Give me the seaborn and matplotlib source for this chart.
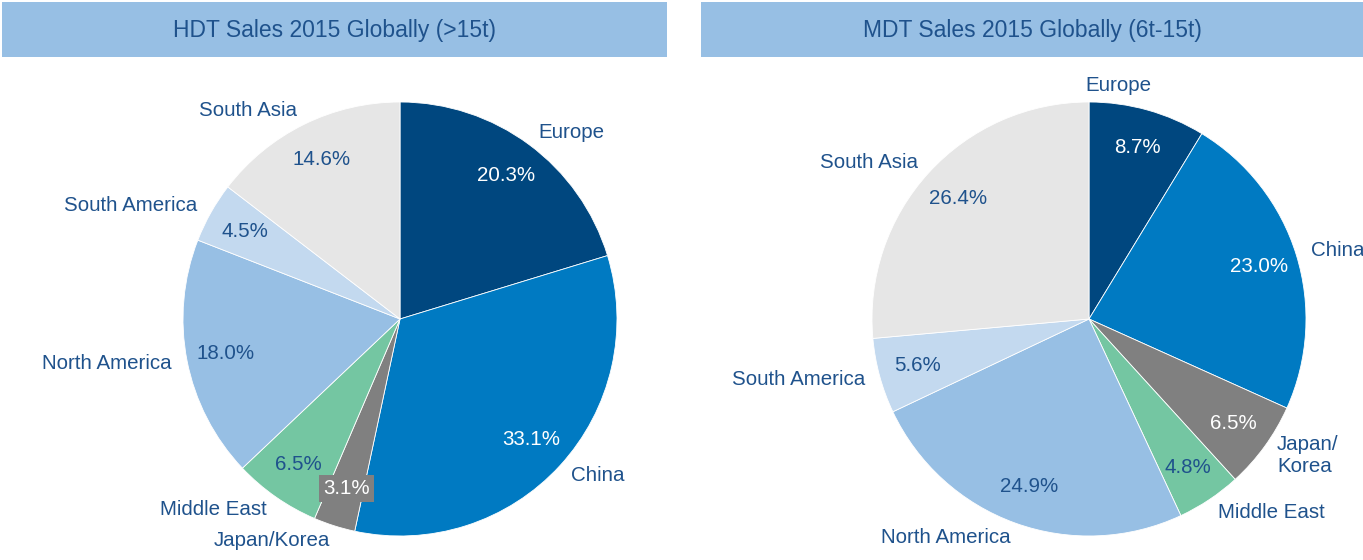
import numpy as np
import matplotlib.pyplot as plt
import seaborn as sns
from matplotlib.patches import Rectangle

sns.set_theme(style='white')
plt.rcParams['font.family'] = ['Liberation Sans', 'DejaVu Sans']

# data
regions = ['Europe', 'China', 'Japan/Korea', 'Middle East',
           'North America', 'South America', 'South Asia']
hdt_share = [20.3, 33.1, 3.1, 6.5, 18.0, 4.5, 14.6]
mdt_share = [8.7, 23.0, 6.5, 4.8, 24.9, 5.6, 26.4]
hdt_labels = regions
mdt_labels = ['Europe', 'China', 'Japan/\nKorea', 'Middle East',
              'North America', 'South America', 'South Asia']
titles = ['HDT Sales 2015 Globally (>15t)', 'MDT Sales 2015 Globally (6t-15t)']

colors = sns.color_palette(['#00477f', '#007ac2', '#808080', '#74c6a2',
                            '#97bfe4', '#c3d9ef', '#e6e6e6'])
text_col = '#1f528c'
white_pct = [0, 1, 2]  # dark slices get white numbers

W, H = 1363, 560
fig = plt.figure(figsize=(W / 100, H / 100), dpi=100)

R = 217
centers = [(400, 319), (1089, 319)]
bars = [(2, 667), (701, 1363)]

for i, (share, labels) in enumerate([(hdt_share, hdt_labels), (mdt_share, mdt_labels)]):
    cx, cy = centers[i]
    hw, hh = 330, 270
    ax = fig.add_axes([(cx - hw) / W, (H - cy - hh) / H, 2 * hw / W, 2 * hh / H])
    wedges, texts, autotexts = ax.pie(
        share, labels=labels, colors=colors, startangle=90, counterclock=False,
        autopct='%.1f%%', pctdistance=0.82, labeldistance=1.07,
        wedgeprops=dict(linewidth=0.6, edgecolor='white'),
        textprops=dict(fontsize=14.8, color=text_col))
    ax.set_xlim(-hw / R, hw / R)
    ax.set_ylim(-hh / R, hh / R)
    ax.set_aspect('equal')
    ax.axis('off')
    for j, t in enumerate(autotexts):
        if j in white_pct:
            t.set_color('white')
    if i == 0:
        autotexts[2].set_bbox(dict(facecolor='#808080', edgecolor='none', pad=3))
    else:
        texts[0].set_ha('right')
        texts[0].set_va('bottom')

    x0, x1 = bars[i]
    fig.patches.append(Rectangle((x0 / W, 1 - 57 / H), (x1 - x0) / W, 55 / H,
                                 transform=fig.transFigure, facecolor='#97bfe4',
                                 edgecolor='none', zorder=0))
    fig.text((x0 + x1) / 2 / W, 1 - 30 / H, titles[i], ha='center', va='center',
             fontsize=16.5, color=text_col)

plt.savefig('out.png', dpi=100)
